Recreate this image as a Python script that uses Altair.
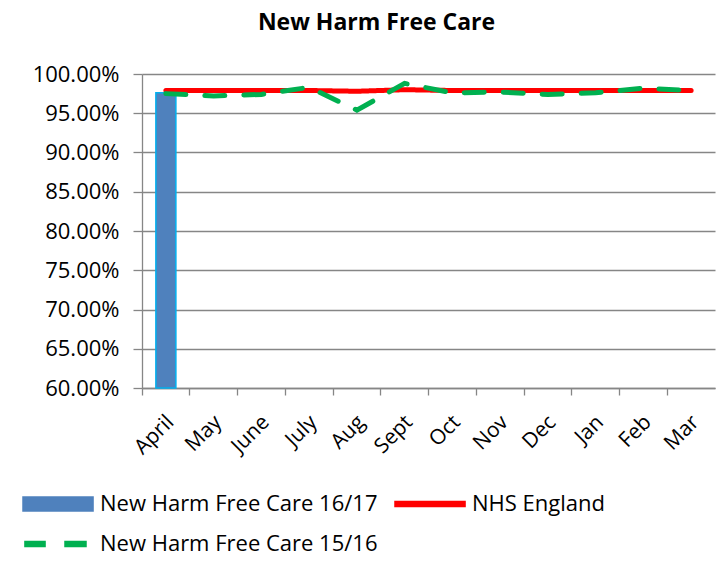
import altair as alt
import pandas as pd

months = ["April", "May", "June", "July", "Aug", "Sept", "Oct", "Nov", "Dec", "Jan", "Feb", "Mar"]
harm_free_1617 = [0.976]  # April only
nhs_england = [0.979, 0.979, 0.979, 0.979, 0.978, 0.980, 0.979, 0.979, 0.979, 0.979, 0.979, 0.979]
harm_free_1516 = [0.975, 0.972, 0.974, 0.983, 0.954, 0.988, 0.976, 0.977, 0.974, 0.976, 0.982, 0.979]

S1617 = "New Harm Free Care 16/17"
SNHS = "NHS England"
S1516 = "New Harm Free Care 15/16"
series_order = [S1617, SNHS, S1516]

bar_df = pd.DataFrame({"month": months[:len(harm_free_1617)], "value": harm_free_1617})
line_df = pd.DataFrame({
    "month": months + months,
    "value": nhs_england + harm_free_1516,
    "series": [SNHS] * len(months) + [S1516] * len(months),
})

FONT = "Open Sans"
GRAY = "#868686"

x_enc = alt.X("month:N", sort=months, scale=alt.Scale(domain=months, paddingInner=0, paddingOuter=0),
              axis=alt.Axis(title=None, labelAngle=-45, labelFontSize=21, labelFont=FONT, labelColor="#000000",
                            tickSize=7, tickColor=GRAY, domainColor=GRAY, domainWidth=1.3, tickWidth=1.3,
                            bandPosition=0, labelOffset=-3, labelPadding=16, grid=False))
y_enc = alt.Y("value:Q", scale=alt.Scale(domain=[0.6, 1.0], zero=False, nice=False),
              axis=alt.Axis(title=None, values=[0.6, 0.65, 0.7, 0.75, 0.8, 0.85, 0.9, 0.95, 1.0], format=".2%",
                            labelFontSize=22, labelFont=FONT, labelColor="#000000", tickSize=9, tickColor=GRAY,
                            tickWidth=1.3, domainColor=GRAY, domainWidth=1.3, labelPadding=14,
                            labelOverlap=False, grid=True, gridColor=GRAY, gridWidth=1.3))

color_scale = alt.Scale(domain=series_order, range=["#4F81BD", "#FF0000", "#00B050"])

legend = alt.Legend(title=None, orient="none", legendX=-120, legendY=414, columns=2, direction="horizontal",
                    columnPadding=14, rowPadding=13, symbolSize=900, symbolStrokeWidth=1.5,
                    labelFontSize=22, labelFont=FONT, labelColor="#000000", labelOffset=46, labelLimit=400)

bars = alt.Chart(bar_df).mark_bar(size=20, color="#4F81BD", stroke="#00B0F0", strokeWidth=1.5).encode(
    x=x_enc,
    y=y_enc,
    y2=alt.datum(0.6),
)

lines = alt.Chart(line_df).mark_line(strokeCap="round", strokeWidth=5).encode(
    x=x_enc,
    y=y_enc,
    color=alt.Color("series:N", scale=color_scale, legend=legend),
    strokeDash=alt.StrokeDash("series:N", scale=alt.Scale(domain=[SNHS, S1516], range=[[1, 0], [20, 19]]),
                              legend=None),
    order=alt.Order("series:N"),
)

# legend-only layer (no rows drawn): symbols as custom paths (unit = 15px with symbolSize 900)
shape_paths = [
    "M-1,-0.47H3.67V0.47H-1Z",
    "M-1,-0.17H3.67V0.17H-1Z",
    "M-0.87,-0.17H0.47V0.17H-0.87Z M1.8,-0.17H3.2V0.17H1.8Z",
]
legend_layer = alt.Chart(line_df).transform_filter("false").mark_point(filled=True, opacity=1).encode(
    x=x_enc,
    y=y_enc,
    color=alt.Color("series:N", scale=color_scale, legend=legend),
    shape=alt.Shape("series:N", scale=alt.Scale(domain=series_order, range=shape_paths), legend=legend),
    stroke=alt.Stroke("series:N", scale=alt.Scale(domain=series_order,
                                                  range=["#00B0F0", "transparent", "transparent"]),
                      legend=legend),
)

chart = alt.layer(bars, lines, legend_layer).properties(
    width=573,
    height=314,
    padding={"left": 134, "top": 66, "right": 1, "bottom": 166},
    autosize=alt.AutoSizeParams(type="none"),
    title=alt.TitleParams("New Harm Free Care", font=FONT, fontSize=23, fontWeight="bold", color="#000000",
                          anchor="middle", dx=-52, offset=28),
).configure_view(stroke=None)

chart.save("out.html", embed_options={"renderer": "svg", "actions": False})
